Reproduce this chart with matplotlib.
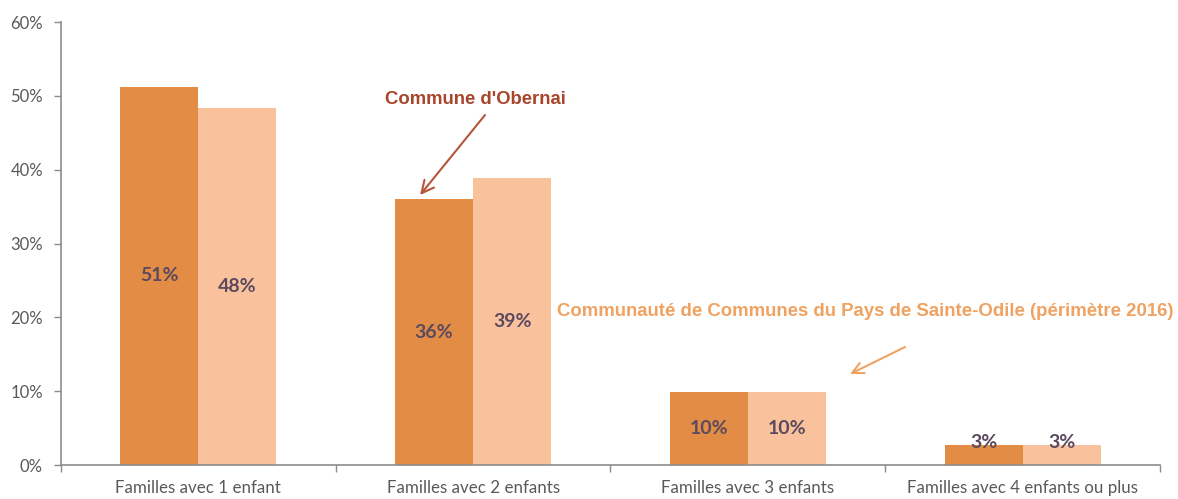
import numpy as np
from matplotlib import pyplot as plt

categories = ['Familles avec 1 enfant', 'Familles avec 2 enfants',
              'Familles avec 3 enfants', 'Familles avec 4 enfants ou plus']
obernai = [51.2, 36.0, 9.9, 2.7]
cc_odile = [48.3, 38.9, 9.9, 2.7]
obernai_labels = ['51%', '36%', '10%', '3%']
cc_labels = ['48%', '39%', '10%', '3%']
y_ticks = [0, 10, 20, 30, 40, 50, 60]

dark = '#E38C45'
light = '#F9C29D'
axis_col = '#8C8C8C'
text_col = '#595959'
val_col = '#5B4A5E'

fig = plt.figure(figsize=(11.78, 4.99), dpi=100)
ax = fig.add_axes([0.0518, 0.0681, 0.9329, 0.8878])

x = np.arange(len(categories))
w = 0.284
ax.bar(x - w / 2, obernai, width=w, color=dark)
ax.bar(x + w / 2, cc_odile, width=w, color=light)

# étiquettes de valeurs au centre des barres
for xi, v, lab in zip(x, obernai, obernai_labels):
    ax.text(xi - w / 2, max(v / 2, 3.0), lab, ha='center', va='center',
            fontsize=14, fontweight='bold', color=val_col, family='Lato')
for xi, v, lab in zip(x, cc_odile, cc_labels):
    ax.text(xi + w / 2, max(v / 2, 3.0), lab, ha='center', va='center',
            fontsize=14, fontweight='bold', color=val_col, family='Lato')

ax.set_xlim(-0.5, len(categories) - 0.5)
ax.set_ylim(0, 60)
ax.set_yticks(y_ticks)
ax.set_yticklabels([f'{t}%' for t in y_ticks], fontsize=12, color=text_col, family='Lato')
ax.set_xticks(x)
ax.set_xticklabels(categories, fontsize=12.2, color=text_col, family='Lato')
ax.tick_params(axis='x', length=0, pad=11)
ax.tick_params(axis='y', length=5, width=1, color=axis_col, pad=8)
# petits traits entre les catégories
ax.set_xticks(np.arange(-0.5, len(categories)), minor=True)
ax.tick_params(axis='x', which='minor', length=5, width=1, color=axis_col)

for s in ['top', 'right']:
    ax.spines[s].set_visible(False)
for s in ['left', 'bottom']:
    ax.spines[s].set_color(axis_col)
    ax.spines[s].set_linewidth(1.2)

# annotations
ax.text(0.3767, 0.824, "Commune d'Obernai", transform=ax.transAxes,
        ha='center', va='center', fontsize=13.3, fontweight='bold',
        color='#A8452B', family='Liberation Sans')
ax.annotate('', xy=(0.3267, 0.6095), xycoords='axes fraction',
            xytext=(0.3858, 0.790), textcoords='axes fraction',
            arrowprops=dict(arrowstyle='->', color='#B5553A', lw=1.5,
                            shrinkA=0, shrinkB=0, mutation_scale=22))
ax.text(0.7316, 0.3476, 'Communauté de Communes du Pays de Sainte-Odile (périmètre 2016)',
        transform=ax.transAxes, ha='center', va='center', fontsize=13.4,
        fontweight='bold', color='#F0A262', family='Liberation Sans')
ax.annotate('', xy=(0.718, 0.2054), xycoords='axes fraction',
            xytext=(0.768, 0.2664), textcoords='axes fraction',
            arrowprops=dict(arrowstyle='->', color='#F0A262', lw=1.5,
                            shrinkA=0, shrinkB=0, mutation_scale=20))

fig.savefig('out.png', dpi=100)
